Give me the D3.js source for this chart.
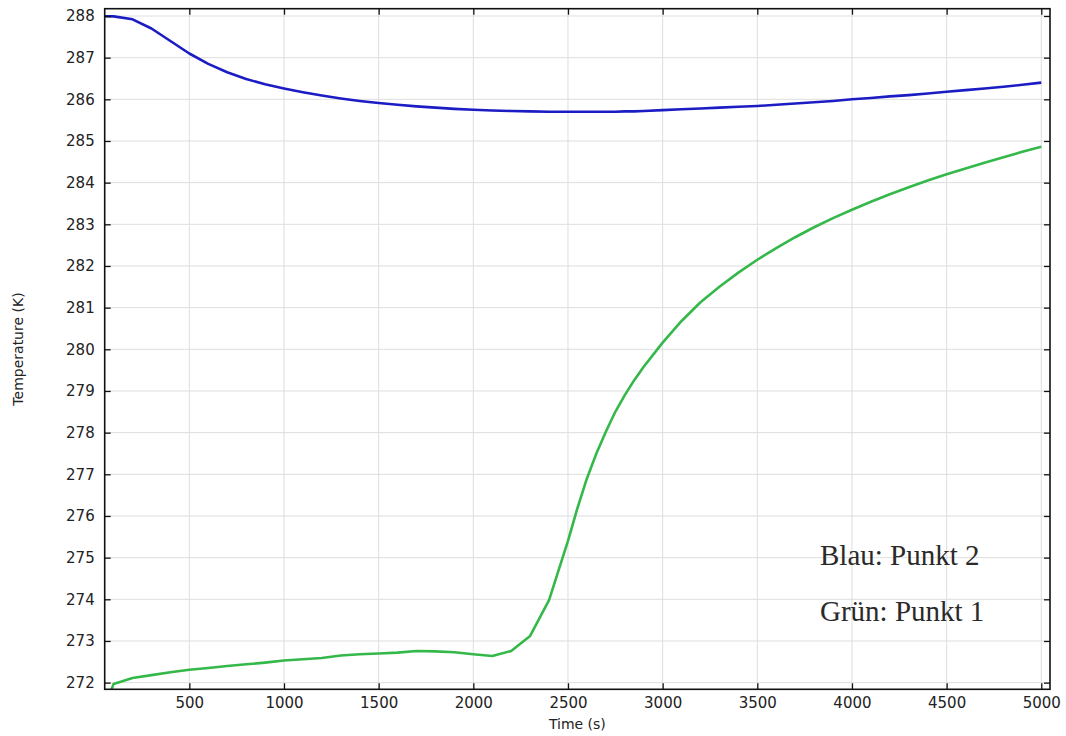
<!DOCTYPE html>
<html>
<head>
<meta charset="utf-8">
<script src="https://cdn.jsdelivr.net/npm/d3@7"></script>
<style>
  html, body { margin: 0; padding: 0; background: #fff; }
  svg { display: block; }
  .tick text { font-family: "DejaVu Sans", sans-serif; font-size: 15px; fill: #222; }
  .axis-title { font-family: "DejaVu Sans", sans-serif; font-size: 14px; fill: #222; }
  .note { font-family: "Liberation Serif", "Times New Roman", serif; font-size: 29px; fill: #2a2a2a; }
</style>
</head>
<body>
<svg id="chart" width="1066" height="736"></svg>
<script>
// Time steps (s); finer output around the steep rise
const times = [
  0, 100, 200, 300, 400, 500, 600, 700, 800, 900,
  1000, 1100, 1200, 1300, 1400, 1500, 1600, 1700, 1800, 1900,
  2000, 2100, 2200, 2300, 2400, 2500, 2550, 2600, 2650, 2700,
  2750, 2800, 2850, 2900, 3000, 3100, 3200, 3300, 3400, 3500,
  3600, 3700, 3800, 3900, 4000, 4100, 4200, 4300, 4400, 4500,
  4600, 4700, 4800, 4900, 5000
];

// Temperature at Punkt 2 (K), blue
const punkt2 = [
  288.00, 287.99, 287.92, 287.70, 287.40, 287.10, 286.85, 286.65, 286.49, 286.36,
  286.26, 286.17, 286.09, 286.02, 285.96, 285.91, 285.87, 285.83, 285.80, 285.77,
  285.75, 285.73, 285.72, 285.71, 285.70, 285.70, 285.70, 285.70, 285.70, 285.70,
  285.70, 285.71, 285.71, 285.72, 285.74, 285.76, 285.78, 285.80, 285.82, 285.84,
  285.87, 285.90, 285.93, 285.96, 286.00, 286.03, 286.07, 286.10, 286.14, 286.18,
  286.22, 286.26, 286.30, 286.35, 286.40
];

// Temperature at Punkt 1 (K), green
const punkt1 = [
  270.80, 271.97, 272.11, 272.18, 272.25, 272.31, 272.35, 272.40, 272.44, 272.48,
  272.53, 272.56, 272.59, 272.65, 272.68, 272.70, 272.72, 272.76, 272.75, 272.73,
  272.68, 272.64, 272.76, 273.12, 273.98, 275.40, 276.19, 276.90, 277.50, 278.02,
  278.50, 278.90, 279.26, 279.58, 280.16, 280.68, 281.13, 281.50, 281.84, 282.15,
  282.43, 282.69, 282.93, 283.15, 283.35, 283.54, 283.72, 283.89, 284.05, 284.20,
  284.34, 284.48, 284.61, 284.74, 284.86
];

const xTicks = [500, 1000, 1500, 2000, 2500, 3000, 3500, 4000, 4500, 5000];
const yTicks = [272, 273, 274, 275, 276, 277, 278, 279, 280, 281, 282, 283, 284, 285, 286, 287, 288];

const noteLines = ["Blau: Punkt 2", "Grün: Punkt 1"];

const svg = d3.select("#chart");
const plotLeft = 104.7, plotRight = 1050, plotTop = 8.7, plotBottom = 689.3;

const x = d3.scaleLinear().domain([53, 5046]).range([plotLeft, plotRight]);
const y = d3.scaleLinear().domain([271.84, 288.175]).range([plotBottom, plotTop]);

// grid
const grid = svg.append("g");
grid.selectAll("line.gx").data(xTicks).join("line")
  .attr("class", "gx")
  .attr("x1", d => x(d)).attr("x2", d => x(d))
  .attr("y1", plotTop).attr("y2", plotBottom)
  .attr("stroke", "#dedede").attr("stroke-width", 1);
grid.selectAll("line.gy").data(yTicks).join("line")
  .attr("class", "gy")
  .attr("x1", plotLeft).attr("x2", plotRight)
  .attr("y1", d => y(d)).attr("y2", d => y(d))
  .attr("stroke", "#dedede").attr("stroke-width", 1);

// clipped data lines
svg.append("clipPath").attr("id", "plot-clip")
  .append("rect").attr("x", plotLeft).attr("y", plotTop)
  .attr("width", plotRight - plotLeft).attr("height", plotBottom - plotTop);

const line = d3.line().x((d, i) => x(times[i])).y(d => y(d));
const lines = svg.append("g").attr("clip-path", "url(#plot-clip)");
lines.append("path").datum(punkt2)
  .attr("d", line).attr("fill", "none")
  .attr("stroke", "#1c1cc4").attr("stroke-width", 2.6)
  .attr("stroke-linejoin", "round");
lines.append("path").datum(punkt1)
  .attr("d", line).attr("fill", "none")
  .attr("stroke", "#35b84a").attr("stroke-width", 2.6)
  .attr("stroke-linejoin", "round");

// axes with inward ticks
const axisStyle = g => {
  g.select(".domain").remove();
  g.selectAll(".tick line").attr("stroke", "#111").attr("stroke-width", 1.3);
};
const fmt = d3.format("d");

svg.append("g").attr("transform", `translate(0,${plotBottom})`)
  .call(d3.axisBottom(x).tickValues(xTicks).tickFormat(fmt).tickSize(-6).tickPadding(8))
  .call(axisStyle);
svg.append("g").attr("transform", `translate(0,${plotTop})`)
  .call(d3.axisTop(x).tickValues(xTicks).tickSize(-6).tickFormat(""))
  .call(axisStyle);
svg.append("g").attr("transform", `translate(${plotLeft},0)`)
  .call(d3.axisLeft(y).tickValues(yTicks).tickFormat(fmt).tickSize(-6).tickPadding(10))
  .call(axisStyle);
svg.append("g").attr("transform", `translate(${plotRight},0)`)
  .call(d3.axisRight(y).tickValues(yTicks).tickSize(-6).tickFormat(""))
  .call(axisStyle);

// frame
svg.append("rect")
  .attr("x", plotLeft).attr("y", plotTop)
  .attr("width", plotRight - plotLeft).attr("height", plotBottom - plotTop)
  .attr("fill", "none").attr("stroke", "#111").attr("stroke-width", 1.6);

// axis titles
svg.append("text").attr("class", "axis-title")
  .attr("x", (plotLeft + plotRight) / 2).attr("y", 729)
  .attr("text-anchor", "middle").text("Time (s)");
svg.append("text").attr("class", "axis-title")
  .attr("transform", `translate(23,${(plotTop + plotBottom) / 2}) rotate(-90)`)
  .attr("text-anchor", "middle").text("Temperature (K)");

// annotation
svg.selectAll("text.note").data(noteLines).join("text")
  .attr("class", "note")
  .attr("x", 820)
  .attr("y", (d, i) => 565 + i * 56)
  .text(d => d);
</script>
</body>
</html>
